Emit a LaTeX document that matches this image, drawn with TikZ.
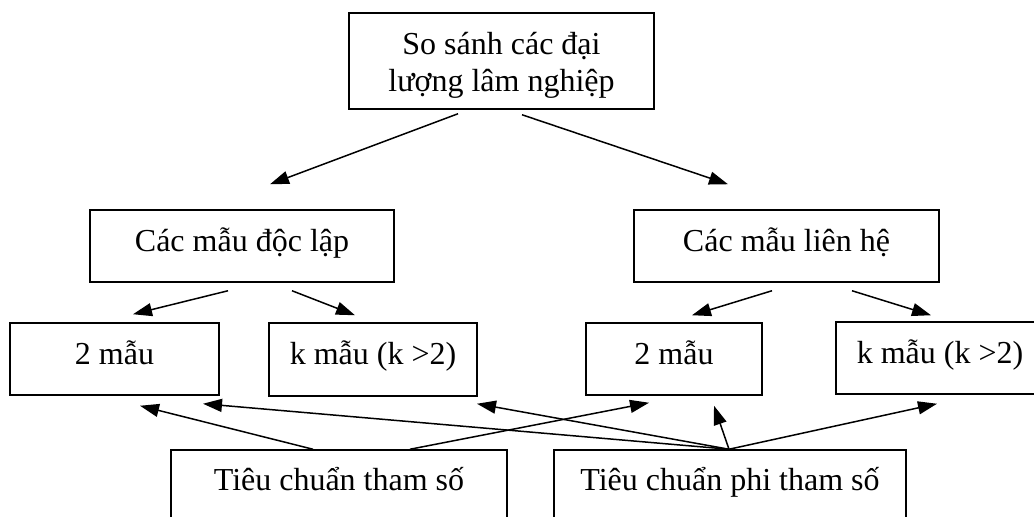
\documentclass[tikz,border=0pt]{standalone}
\usepackage{fontspec}
\setmainfont{Liberation Serif}
\usetikzlibrary{calc,arrows.meta}
\tikzset{
  box/.style={draw, line width=.75pt, inner sep=0pt, align=center,
    text height=12pt, text depth=6.5pt,
    font=\fontsize{16}{18.5}\selectfont},
}
\begin{document}
\begin{tikzpicture}[>={Triangle[length=9.5pt,width=6.5pt]}, x=.5pt, y=-.5pt, line width=.75pt]
    \useasboundingbox (0,0) rectangle (1034,517);
    \node[box, text height=33pt, text depth=2pt, minimum width=152.5pt, minimum height=48pt](top) at (501.5,61){So sánh các đại\\lượng lâm nghiệp};
    \node[box, minimum width=152pt, minimum height=36pt](indep) at (242,246){Các mẫu độc lập};
    \node[box, minimum width=152.5pt, minimum height=36pt](dep) at (786.5,246){Các mẫu liên hệ};
    \node[box, minimum width=104.5pt, minimum height=36pt](twoA) at (114.5,359){2 mẫu};
    \node[box, minimum width=104pt, minimum height=36.5pt](kA) at (373,359.5){k mẫu (k >2)};
    \node[box, minimum width=88pt, minimum height=36pt](twoB) at (674,359){2 mẫu};
    \node[box, minimum width=104pt, minimum height=36pt](kB) at (940,358){k mẫu (k >2)};
    \node[box, text depth=8pt, minimum width=168pt, minimum height=37pt](param) at (339,487){Tiêu chuẩn tham số};
    \node[box, text depth=8pt, minimum width=176pt, minimum height=37pt](nonparam) at (730,487){Tiêu chuẩn phi tham số};
    \draw[->]($(top.south)+(-43.5,4)$)--($(indep.north)+(28,-25)$);
    \draw[->]($(top.south)+(20.5,5)$)--($(dep.north)+(-58.5,-25)$);
    \draw[->]($(indep.south)+(-14,8)$)--($(twoA.north)+(18.5,-8)$);
    \draw[->]($(indep.south)+(50,8)$)--($(kA.north)+(-18,-7)$);
    \draw[->]($(dep.south)+(-14.5,8)$)--($(twoB.north)+(18,-7)$);
    \draw[->]($(dep.south)+(65.5,8)$)--($(kB.north)+(-9,-6)$);
    \draw[->]($(param.north)+(-26,0)$)--($(twoA.south)+(25.5,10)$);
    \draw[->]($(param.north)+(71,0)$)--($(twoB.south)+(-25,7)$);
    \draw[->]($(nonparam.north)+(-1,0)$)--($(twoA.south)+(88.5,8)$);
    \draw[->]($(nonparam.north)+(-1,0)$)--($(kA.south)+(104,7)$);
    \draw[->]($(nonparam.north)+(-1,0)$)--($(twoB.south)+(40,10)$);
    \draw[->]($(nonparam.north)+(-1,0)$)--($(kB.south)+(-3,9)$);
    \end{tikzpicture}
\end{document}
